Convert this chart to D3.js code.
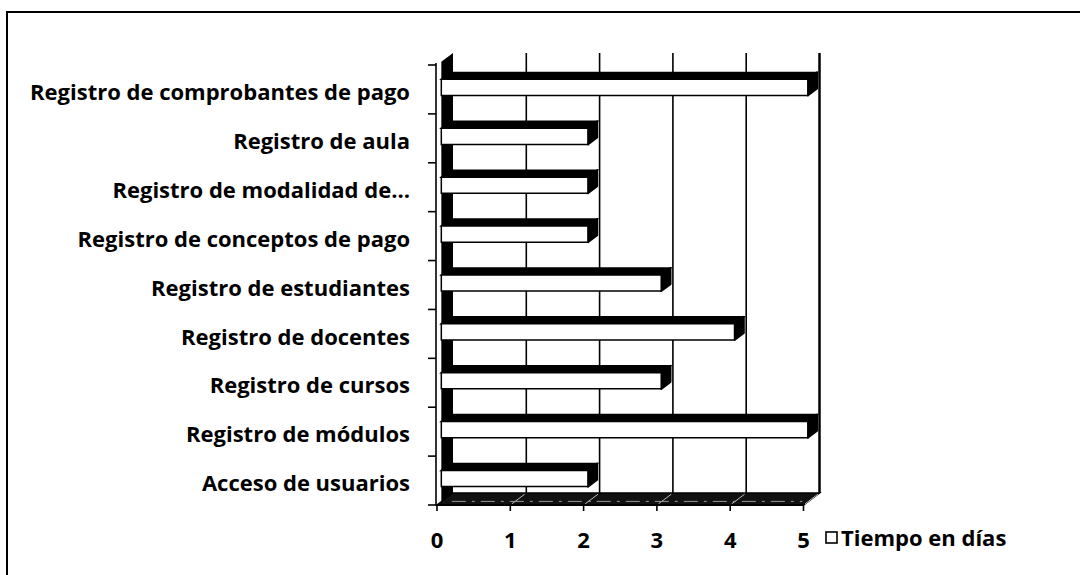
<!DOCTYPE html>
<html>
<head>
<meta charset="utf-8">
<script src="https://cdn.jsdelivr.net/npm/d3@7"></script>
<style>
  body { margin: 0; background: #fff; }
  text { font-family: "Open Sans", "Noto Sans", sans-serif; font-weight: bold; fill: #000; }
</style>
</head>
<body>
<div id="chart"></div>
<script>
// categories top to bottom, as shown
const categories = [
    "Registro de comprobantes de pago",
    "Registro de aula",
    "Registro de modalidad de...",
    "Registro de conceptos de pago",
    "Registro de estudiantes",
    "Registro de docentes",
    "Registro de cursos",
    "Registro de módulos",
    "Acceso de usuarios"
];
const tiempoDias = [5, 2, 2, 2, 3, 4, 3, 5, 2];
const xTicks = [0, 1, 2, 3, 4, 5];
const seriesName = "Tiempo en días";

const width = 1080;
const height = 575;

// fake 3d: depth offset of the back wall relative to the front plane
const depthX = 16;
const depthY = 12;
const barFront = 0.27;
const barBack = 0.85;

const svg = d3.select("#chart")
    .append("svg")
    .attr("width", width)
    .attr("height", height);

const x = d3.scaleLinear().domain([0, 5]).range([437, 803.5]);
const y = d3.scaleBand().domain(categories).range([65, 505]);

function proj(px, py, d) {
    return [px + d * depthX, py - d * depthY];
}

const line = d3.line();
const poly = pts => line(pts) + "Z";

// outer frame (left and top edge only visible)
svg.append("path")
    .attr("d", "M7,575 L7,12 L1080,12")
    .attr("fill", "none")
    .attr("stroke", "#000")
    .attr("stroke-width", 2);

// back wall gridlines
svg.selectAll("line.grid")
    .data(xTicks.slice(1))
    .enter()
    .append("line")
    .attr("class", "grid")
    .attr("x1", d => proj(x(d), 0, 1)[0])
    .attr("x2", d => proj(x(d), 0, 1)[0])
    .attr("y1", proj(0, y.range()[0], 1)[1])
    .attr("y2", proj(0, y.range()[1], 1)[1])
    .attr("stroke", "#000")
    .attr("stroke-width", d => d === 5 ? 2.5 : 1.6);

// left side wall
const yTop = y.range()[0];
const yBot = y.range()[1];
svg.append("path")
    .attr("d", poly([
        proj(x(0), yTop, barFront), proj(x(0), yTop, 1),
        proj(x(0), yBot, 1), proj(x(0), yBot, barFront)
    ]))
    .attr("fill", "#000");

// floor
svg.append("path")
    .attr("d", poly([
        proj(x(0), yBot, 0), proj(x(5), yBot, 0),
        proj(x(5), yBot, 1), proj(x(0), yBot, 1)
    ]))
    .attr("fill", "#111")
    .attr("stroke", "#000")
    .attr("stroke-width", 1.5);

svg.selectAll("line.floorgrid")
    .data(xTicks.slice(1))
    .enter()
    .append("line")
    .attr("class", "floorgrid")
    .attr("x1", d => proj(x(d), yBot, 0.1)[0])
    .attr("y1", d => proj(x(d), yBot, 0.1)[1])
    .attr("x2", d => proj(x(d), yBot, 0.9)[0])
    .attr("y2", d => proj(x(d), yBot, 0.9)[1])
    .attr("stroke", "#bbb")
    .attr("stroke-width", 1);

svg.append("line")
    .attr("x1", proj(x(0), yBot, 0.3)[0] + 10)
    .attr("x2", proj(x(5), yBot, 0.3)[0] - 6)
    .attr("y1", proj(0, yBot, 0.3)[1])
    .attr("y2", proj(0, yBot, 0.3)[1])
    .attr("stroke", "#999")
    .attr("stroke-width", 1)
    .attr("stroke-dasharray", "14 6 3 6");

// category axis (front left edge)
svg.append("line")
    .attr("x1", x(0) - 1).attr("x2", x(0) - 1)
    .attr("y1", yTop - 2).attr("y2", yBot)
    .attr("stroke", "#000")
    .attr("stroke-width", 1.6);

const catTicks = categories.map(c => y(c)).concat([yBot]);
svg.selectAll("line.ytick")
    .data(catTicks)
    .enter()
    .append("line")
    .attr("class", "ytick")
    .attr("x1", x(0) - 9).attr("x2", x(0) - 1)
    .attr("y1", d => d).attr("y2", d => d)
    .attr("stroke", "#000")
    .attr("stroke-width", 1.6);

// value axis (front bottom edge)
svg.append("line")
    .attr("x1", x(0) - 1).attr("x2", x(5))
    .attr("y1", yBot).attr("y2", yBot)
    .attr("stroke", "#000")
    .attr("stroke-width", 2);

svg.selectAll("line.xtick")
    .data(xTicks)
    .enter()
    .append("line")
    .attr("class", "xtick")
    .attr("x1", d => x(d)).attr("x2", d => x(d))
    .attr("y1", yBot).attr("y2", yBot + 6)
    .attr("stroke", "#000")
    .attr("stroke-width", 1.6);

// bars
const bars = categories.map((c, i) => {
    const bw = y.bandwidth();
    return { cat: c, value: tiempoDias[i], y0: y(c) + bw * 0.36, y1: y(c) + bw * 0.69 };
});

const barG = svg.selectAll("g.bar")
    .data(bars)
    .enter()
    .append("g")
    .attr("class", "bar");

// top face
barG.append("path")
    .attr("d", d => poly([
        proj(x(0), d.y0, barFront), proj(x(d.value), d.y0, barFront),
        proj(x(d.value), d.y0, barBack), proj(x(0), d.y0, barBack)
    ]))
    .attr("fill", "#000")
    .attr("stroke", "#000")
    .attr("stroke-width", 1.5);

// end face
barG.append("path")
    .attr("d", d => poly([
        proj(x(d.value), d.y0, barFront), proj(x(d.value), d.y0, barBack),
        proj(x(d.value), d.y1, barBack), proj(x(d.value), d.y1, barFront)
    ]))
    .attr("fill", "#000")
    .attr("stroke", "#000")
    .attr("stroke-width", 2)
    .attr("stroke-linejoin", "round");

// front face
barG.append("path")
    .attr("d", d => poly([
        proj(x(0), d.y0, barFront), proj(x(d.value), d.y0, barFront),
        proj(x(d.value), d.y1, barFront), proj(x(0), d.y1, barFront)
    ]))
    .attr("fill", "#fff")
    .attr("stroke", "#000")
    .attr("stroke-width", 1.5);

// category labels
svg.selectAll("text.cat")
    .data(categories)
    .enter()
    .append("text")
    .attr("class", "cat")
    .attr("x", 410)
    .attr("y", d => y(d) + y.bandwidth() / 2 + 3)
    .attr("dy", ".35em")
    .attr("text-anchor", "end")
    .attr("font-size", 22)
    .text(d => d);

// value tick labels
svg.selectAll("text.xlabel")
    .data(xTicks)
    .enter()
    .append("text")
    .attr("class", "xlabel")
    .attr("x", d => x(d))
    .attr("y", 548)
    .attr("text-anchor", "middle")
    .attr("font-size", 22)
    .text(d => d);

// legend
svg.append("rect")
    .attr("x", 826)
    .attr("y", 532)
    .attr("width", 11)
    .attr("height", 11)
    .attr("fill", "#fff")
    .attr("stroke", "#000")
    .attr("stroke-width", 1.6);

svg.append("text")
    .attr("x", 841)
    .attr("y", 546)
    .attr("font-size", 22)
    .text(seriesName);
</script>
</body>
</html>
